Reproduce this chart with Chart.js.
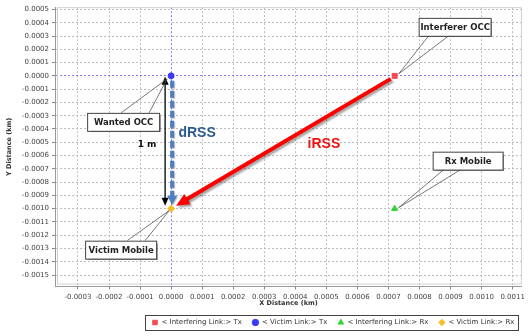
<!DOCTYPE html>
<html>
<head>
<meta charset="utf-8">
<script src="https://cdn.jsdelivr.net/npm/chart.js@4.4.1/dist/chart.umd.min.js"></script>
<style>
    html, body { margin: 0; padding: 0; background: #fff; }
    canvas { display: block; }
</style>
</head>
<body>
<canvas id="js-scenario-chart" width="528" height="336"></canvas>
<script>
// Chart data
const seriesNames = ["< Interfering Link:> Tx", "< Victim Link:> Tx", "< Interfering Link:> Rx", "< Victim Link:> Rx"];
const seriesX = [0.00072, 0, 0.00072, 0];
const seriesY = [0, 0, -0.001, -0.001];
const calloutLabels = ["Interferer OCC", "Wanted OCC", "Rx Mobile", "Victim Mobile"];
const xTicks = [-0.0003, -0.0002, -0.0001, 0, 0.0001, 0.0002, 0.0003, 0.0004, 0.0005, 0.0006, 0.0007, 0.0008, 0.0009, 0.001, 0.0011];
const yTicks = [0.0005, 0.0004, 0.0003, 0.0002, 0.0001, 0, -0.0001, -0.0002, -0.0003, -0.0004, -0.0005, -0.0006, -0.0007, -0.0008, -0.0009, -0.001, -0.0011, -0.0012, -0.0013, -0.0014, -0.0015];
const xRange = [-0.000374, 0.00113];
const yRange = [-0.001586, 0.000517];

const FONT = "'DejaVu Sans', Verdana, sans-serif";
const colors = ["#f24b55", "#3b3bf5", "#33d633", "#f5be2a"];
const styles = ["rect", "circle", "triangle", "rectRot"];

function tickLabel(v) {
    return Math.abs(v) < 1e-12 ? "0.0000" : v.toFixed(4);
}

function gridColor(ctx) {
    if (ctx.tick && Math.abs(ctx.tick.value) < 1e-12) return "rgba(70, 70, 230, 0.7)";
    return "#bdbdbd";
}

function arrowHead(ctx, x1, y1, x2, y2, len, half, color) {
    const a = Math.atan2(y2 - y1, x2 - x1);
    ctx.save();
    ctx.fillStyle = color;
    ctx.translate(x2, y2);
    ctx.rotate(a);
    ctx.beginPath();
    ctx.moveTo(0, 0);
    ctx.lineTo(-len, -half);
    ctx.lineTo(-len, half);
    ctx.closePath();
    ctx.fill();
    ctx.restore();
}

function callout(ctx, text, box, b1, b2, tip) {
    ctx.save();
    // pointer wedge
    ctx.strokeStyle = "#555";
    ctx.lineWidth = 0.8;
    ctx.beginPath();
    ctx.moveTo(b1[0], b1[1]);
    ctx.lineTo(tip[0], tip[1]);
    ctx.lineTo(b2[0], b2[1]);
    ctx.stroke();
    // box with a little shadow
    ctx.shadowColor = "rgba(0,0,0,0.35)";
    ctx.shadowOffsetX = 1.5;
    ctx.shadowOffsetY = 1.5;
    ctx.shadowBlur = 1;
    ctx.fillStyle = "#fff";
    ctx.fillRect(box[0], box[1], box[2], box[3]);
    ctx.shadowColor = "transparent";
    ctx.strokeStyle = "#444";
    ctx.lineWidth = 1;
    ctx.strokeRect(box[0] + 0.5, box[1] + 0.5, box[2], box[3]);
    ctx.fillStyle = "#222";
    ctx.font = "bold 8.5px " + FONT;
    ctx.textAlign = "center";
    ctx.textBaseline = "middle";
    ctx.fillText(text, box[0] + box[2] / 2 + 0.5, box[1] + box[3] / 2 + 1);
    ctx.restore();
}

// Annotations: callouts, distance arrows and labels
const scenarioPlugin = {
    id: "scenario",
    beforeDraw(chart) {
        const ctx = chart.ctx;
        ctx.save();
        ctx.fillStyle = "#fff";
        ctx.fillRect(0, 0, chart.width, chart.height);
        ctx.restore();

        // move the legend a bit right, like the original
        const lg = chart.legend;
        const hb = lg.legendHitBoxes;
        if (hb && hb.length && !lg.$shifted) {
            const dx = 152 - Math.min(...hb.map(h => h.left));
            lg.left += dx;
            lg.right += dx;
            hb.forEach(h => { h.left += dx; });
            lg.$shifted = true;
        }
    },
    afterDatasetsDraw(chart) {
        const ctx = chart.ctx;
        const xs = chart.scales.x, ys = chart.scales.y;
        const p = seriesX.map((v, i) => [xs.getPixelForValue(v), ys.getPixelForValue(seriesY[i])]);
        const [iTx, vTx, iRx, vRx] = p;

        // red iRSS arrow
        ctx.save();
        ctx.shadowColor = "rgba(0,0,0,0.35)";
        ctx.shadowOffsetX = 2;
        ctx.shadowOffsetY = 2;
        ctx.shadowBlur = 2;
        const rs = [iTx[0] - 4, iTx[1] + 3], re = [vRx[0] + 5, vRx[1] - 3];
        const ang = Math.atan2(re[1] - rs[1], re[0] - rs[0]);
        ctx.strokeStyle = "#ff0000";
        ctx.lineWidth = 4;
        ctx.beginPath();
        ctx.moveTo(rs[0], rs[1]);
        ctx.lineTo(re[0] - Math.cos(ang) * 9, re[1] - Math.sin(ang) * 9);
        ctx.stroke();
        arrowHead(ctx, rs[0], rs[1], re[0], re[1], 13, 6, "#ff0000");
        ctx.restore();

        // blue dashed dRSS arrow
        ctx.save();
        ctx.shadowColor = "rgba(0,0,0,0.25)";
        ctx.shadowOffsetX = 1;
        ctx.shadowOffsetY = 1;
        ctx.shadowBlur = 1;
        ctx.strokeStyle = "#4f7fbf";
        ctx.lineWidth = 4;
        ctx.setLineDash([7, 3]);
        ctx.beginPath();
        ctx.moveTo(vTx[0] + 1, vTx[1] + 5);
        ctx.lineTo(vTx[0] + 1, vRx[1] - 12);
        ctx.stroke();
        ctx.setLineDash([]);
        arrowHead(ctx, vTx[0] + 1, vTx[1], vTx[0] + 1, vRx[1] - 4, 9, 5, "#4f7fbf");
        ctx.restore();

        // black double arrow (1 m)
        ctx.save();
        const bx = vTx[0] - 6;
        ctx.strokeStyle = "#000";
        ctx.lineWidth = 1.3;
        ctx.beginPath();
        ctx.moveTo(bx, vTx[1] + 6);
        ctx.lineTo(bx, vRx[1] - 8);
        ctx.stroke();
        arrowHead(ctx, bx, vRx[1], bx, vTx[1] + 1, 8, 3.5, "#000");
        arrowHead(ctx, bx, vTx[1], bx, vRx[1] - 3, 8, 3.5, "#000");
        ctx.restore();

        // text labels
        ctx.save();
        ctx.textAlign = "center";
        ctx.textBaseline = "middle";
        ctx.font = "bold 9px " + FONT;
        ctx.fillStyle = "#111";
        ctx.fillText("1 m", vTx[0] - 24, (vTx[1] + vRx[1]) / 2 + 2);
        ctx.font = "bold 14px 'Liberation Sans', Arial, sans-serif";
        ctx.fillStyle = "#2c5a94";
        ctx.fillText("dRSS", vTx[0] + 26, vTx[1] + 57);
        ctx.fillStyle = "#ee1111";
        ctx.fillText("iRSS", (iTx[0] + vRx[0]) / 2 + 41, vTx[1] + 68);
        ctx.restore();

        // callouts
        let b;
        b = [iTx[0] + 24, iTx[1] - 58, 72, 18];
        callout(ctx, calloutLabels[0], b, [b[0] + 10, b[1] + b[3]], [b[0] + 30, b[1] + b[3]], [iTx[0] + 4, iTx[1] - 2]);
        b = [vTx[0] - 84, vTx[1] + 37, 72, 18];
        callout(ctx, calloutLabels[1], b, [b[0] + 34, b[1]], [b[0] + 62, b[1]], [vTx[0] - 4, vTx[1] + 3]);
        b = [iRx[0] + 38, iRx[1] - 57, 70, 18];
        callout(ctx, calloutLabels[2], b, [b[0] + 11, b[1] + b[3]], [b[0] + 28, b[1] + b[3]], [iRx[0] + 4, iRx[1] - 1]);
        b = [vRx[0] - 86, vRx[1] + 32, 71, 18];
        callout(ctx, calloutLabels[3], b, [b[0] + 42, b[1]], [b[0] + 60, b[1]], [vRx[0] - 2, vRx[1] + 2]);
    },
    afterDraw(chart) {
        const ctx = chart.ctx;
        const a = chart.chartArea;
        ctx.save();
        // plot frame
        ctx.strokeStyle = "#d0d0d0";
        ctx.lineWidth = 1;
        ctx.strokeRect(a.left + 2.5, a.top + 0.5, a.right - a.left - 3, a.bottom - a.top - 3);
        // legend frame
        const hb = chart.legend.legendHitBoxes;
        if (hb && hb.length) {
            const l = Math.min(...hb.map(h => h.left)) - 7;
            const r = Math.max(...hb.map(h => h.left + h.width)) + 4;
            const t = hb[0].top - 4;
            const btm = hb[0].top + hb[0].height + 4;
            ctx.strokeStyle = "#444";
            ctx.strokeRect(Math.round(l) + 0.5, Math.round(t) + 0.5, Math.round(r - l), Math.round(btm - t));
        }
        ctx.restore();
    },
};

const datasets = seriesNames.map((name, i) => ({
    label: name,
    data: [{ x: seriesX[i], y: seriesY[i] }],
    pointStyle: styles[i],
    pointRadius: i === 1 ? 3 : 3.5,
    backgroundColor: colors[i],
    borderColor: colors[i],
    borderWidth: 1,
    showLine: false,
}));

new Chart(document.getElementById("js-scenario-chart"), {
    type: "scatter",
    data: { datasets: datasets },
    options: {
        responsive: false,
        animation: false,
        layout: { padding: { top: 5, right: 6, left: 0, bottom: 0 } },
        plugins: {
            tooltip: { enabled: false },
            legend: {
                position: "bottom",
                labels: {
                    usePointStyle: true,
                    boxWidth: 6,
                    boxHeight: 4.5,
                    padding: 10.5,
                    color: "#333",
                    font: { family: FONT, size: 7 },
                },
            },
        },
        scales: {
            x: {
                type: "linear",
                min: xRange[0],
                max: xRange[1],
                afterBuildTicks: (scale) => { scale.ticks = xTicks.map(v => ({ value: v })); },
                afterFit: (scale) => { scale.height = 22; },
                ticks: {
                    callback: (v) => tickLabel(v),
                    color: "#444",
                    font: { family: FONT, size: 7 },
                    padding: 3,
                    maxRotation: 0,
                    autoSkip: false,
                },
                grid: { color: gridColor, tickColor: "#888", tickLength: 3 },
                border: { color: "#999", dash: [2, 2] },
                title: {
                    display: true,
                    text: "X Distance (km)",
                    color: "#333",
                    font: { family: FONT, size: 6.5, weight: "bold" },
                    padding: { top: 2, bottom: 1 },
                },
            },
            y: {
                type: "linear",
                min: yRange[0],
                max: yRange[1],
                afterBuildTicks: (scale) => { scale.ticks = yTicks.map(v => ({ value: v })); },
                afterFit: (scale) => { scale.width = 55; },
                ticks: {
                    callback: (v) => tickLabel(v),
                    color: "#444",
                    font: { family: FONT, size: 7 },
                    padding: 3,
                    autoSkip: false,
                },
                grid: { color: gridColor, tickColor: "#888", tickLength: 3 },
                border: { color: "#999", dash: [2, 2] },
                title: {
                    display: true,
                    text: "Y Distance (km)",
                    color: "#333",
                    font: { family: FONT, size: 6.5, weight: "bold" },
                    padding: { top: 5, bottom: 3 },
                },
            },
        },
    },
    plugins: [scenarioPlugin],
});
</script>
</body>
</html>
